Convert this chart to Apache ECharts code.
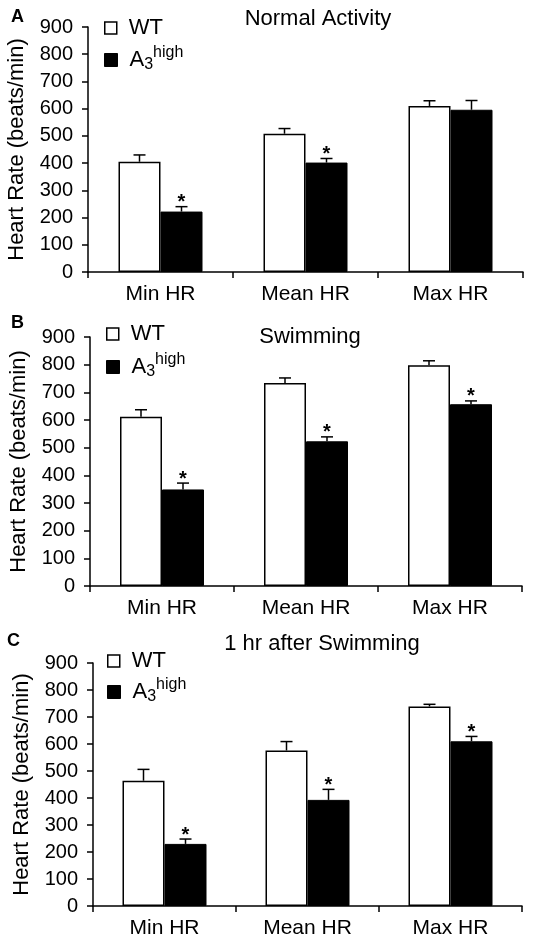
<!DOCTYPE html>
<html>
<head>
<meta charset="utf-8">
<script src="https://cdn.jsdelivr.net/npm/echarts@6/dist/echarts.min.js"></script>
<style>
html, body { margin: 0; padding: 0; background: #fff; }
#chart { width: 533px; height: 944px; }
</style>
</head>
<body>
<div id="chart"></div>
<script>
const categories = ['Min HR', 'Mean HR', 'Max HR'];
const panelTitles = ['Normal Activity', 'Swimming', '1 hr after Swimming'];
const panelLetters = ['A', 'B', 'C'];

// A - normal activity
const wtA = [405, 508, 610];
const wtErrA = [25, 19, 19];
const a3A = [222, 402, 596];
const a3ErrA = [18, 15, 34];
const sigA = [1, 1, 0];

// B - swimming
const wtB = [612, 734, 798];
const wtErrB = [25, 18, 16];
const a3B = [349, 523, 657];
const a3ErrB = [23, 16, 12];
const sigB = [1, 1, 1];

// C - 1 hr after swimming
const wtC = [464, 576, 739];
const wtErrC = [42, 33, 8];
const a3C = [230, 393, 610];
const a3ErrC = [18, 39, 18];
const sigC = [1, 1, 1];

const panels = [
  { wt: wtA, wtErr: wtErrA, a3: a3A, a3Err: a3ErrA, sig: sigA },
  { wt: wtB, wtErr: wtErrB, a3: a3B, a3Err: a3ErrB, sig: sigB },
  { wt: wtC, wtErr: wtErrC, a3: a3C, a3Err: a3ErrC, sig: sigC }
];

// layout (pixels)
const grids = [
  { left: 88, top: 27, right: 10, bottom: 672 },
  { left: 90, top: 337, right: 11, bottom: 358 },
  { left: 93, top: 663, right: 11, bottom: 38 }
];
const titlePos = [[318, 8], [310, 326], [322, 633]];
const letterPos = [[11, 8], [11, 314], [7, 632]];
const legendPos = [[104, 17, 45], [106, 323, 352], [107, 650, 677]];

const FONT = '"Liberation Sans", Arial, Helvetica, sans-serif';
const BAR_W = 42;

function errorSeries(means, errs, sig, idx, side) {
  return {
    type: 'custom',
    xAxisIndex: idx,
    yAxisIndex: idx,
    z: 5,
    silent: true,
    data: means.map((m, i) => [i, m, m + errs[i], sig ? sig[i] : 0]),
    renderItem(params, api) {
      const c = api.value(0);
      const base = api.coord([c, api.value(1)]);
      const top = api.coord([c, api.value(2)]);
      const x = base[0] + side * BAR_W / 2;
      const children = [
        { type: 'line', shape: { x1: x, y1: base[1], x2: x, y2: top[1] }, style: { stroke: '#000', lineWidth: 1.5 } },
        { type: 'line', shape: { x1: x - 6, y1: top[1], x2: x + 6, y2: top[1] }, style: { stroke: '#000', lineWidth: 1.5 } }
      ];
      if (api.value(3)) {
        children.push({
          type: 'text',
          style: { text: '*', x: x, y: top[1] + 6, align: 'center', verticalAlign: 'bottom',
                   font: 'bold 20px ' + FONT, fill: '#000' }
        });
      }
      return { type: 'group', children: children };
    }
  };
}

const legendRich = {
  a: { fontSize: 22, fontFamily: FONT, color: '#000', padding: [0, 0, 0, 7] },
  sub: { fontSize: 16, fontFamily: FONT, color: '#000', padding: [10, 0, 0, 0] },
  sup: { fontSize: 16, fontFamily: FONT, color: '#000', padding: [0, 0, 14, 0] }
};

const option = {
  backgroundColor: '#fff',
  animation: false,
  textStyle: { fontFamily: FONT, color: '#000' },
  title: [],
  legend: [],
  grid: [],
  xAxis: [],
  yAxis: [],
  series: []
};

panels.forEach((p, i) => {
  option.grid.push(Object.assign({ containLabel: false, outerBoundsMode: 'none' }, grids[i]));
  option.title.push({
    text: panelTitles[i], left: titlePos[i][0], top: titlePos[i][1], textAlign: 'center', padding: 0,
    textStyle: { fontFamily: FONT, fontSize: 22, fontWeight: 'normal', color: '#000' }
  });
  option.title.push({
    text: panelLetters[i], left: letterPos[i][0], top: letterPos[i][1], padding: 0,
    textStyle: { fontFamily: FONT, fontSize: 18, fontWeight: 'bold', color: '#000' }
  });
  option.legend.push({
    data: [{ name: 'WT', icon: 'rect', itemStyle: { color: '#fff', borderColor: '#000', borderWidth: 1.5 } }],
    left: legendPos[i][0], top: legendPos[i][1], padding: 0,
    itemWidth: 12, itemHeight: 12, selectedMode: false,
    formatter: '{a|{name}}',
    textStyle: { rich: legendRich }
  });
  option.legend.push({
    data: [{ name: 'A3high', icon: 'rect', itemStyle: { color: '#000', borderColor: '#000', borderWidth: 1 } }],
    left: legendPos[i][0], top: legendPos[i][2], padding: 0,
    itemWidth: 13, itemHeight: 13, selectedMode: false,
    formatter: () => '{a|A}{sub|3}{sup|high}',
    textStyle: { rich: legendRich }
  });
  option.xAxis.push({
    type: 'category', gridIndex: i, data: categories,
    axisLine: { show: true, lineStyle: { color: '#000', width: 1.5 } },
    axisTick: { show: true, length: 6, interval: 0, lineStyle: { color: '#000', width: 1.5 } },
    axisLabel: { color: '#000', fontSize: 21, fontFamily: FONT, margin: 12, interval: 0 },
    splitLine: { show: false }
  });
  option.yAxis.push({
    type: 'value', gridIndex: i, min: 0, max: 900, interval: 100,
    name: 'Heart Rate (beats/min)', nameLocation: 'middle', nameGap: 60,
    nameTextStyle: { color: '#000', fontSize: 22, fontFamily: FONT },
    axisLine: { show: true, lineStyle: { color: '#000', width: 1.5 } },
    axisTick: { show: true, length: 6, lineStyle: { color: '#000', width: 1.5 } },
    axisLabel: { color: '#000', fontSize: 20, fontFamily: FONT, margin: 15 },
    splitLine: { show: false }
  });
  option.series.push({
    type: 'bar', name: 'WT', xAxisIndex: i, yAxisIndex: i, data: p.wt,
    barWidth: BAR_W, barGap: '0%',
    itemStyle: { color: '#fff', borderColor: '#000', borderWidth: 1.5 }
  });
  option.series.push({
    type: 'bar', name: 'A3high', xAxisIndex: i, yAxisIndex: i, data: p.a3,
    barWidth: BAR_W, barGap: '0%',
    itemStyle: { color: '#000', borderColor: '#000', borderWidth: 1 }
  });
  option.series.push(errorSeries(p.wt, p.wtErr, null, i, -1));
  option.series.push(errorSeries(p.a3, p.a3Err, p.sig, i, 1));
});

const chart = echarts.init(document.getElementById('chart'));
chart.setOption(option);
</script>
</body>
</html>
